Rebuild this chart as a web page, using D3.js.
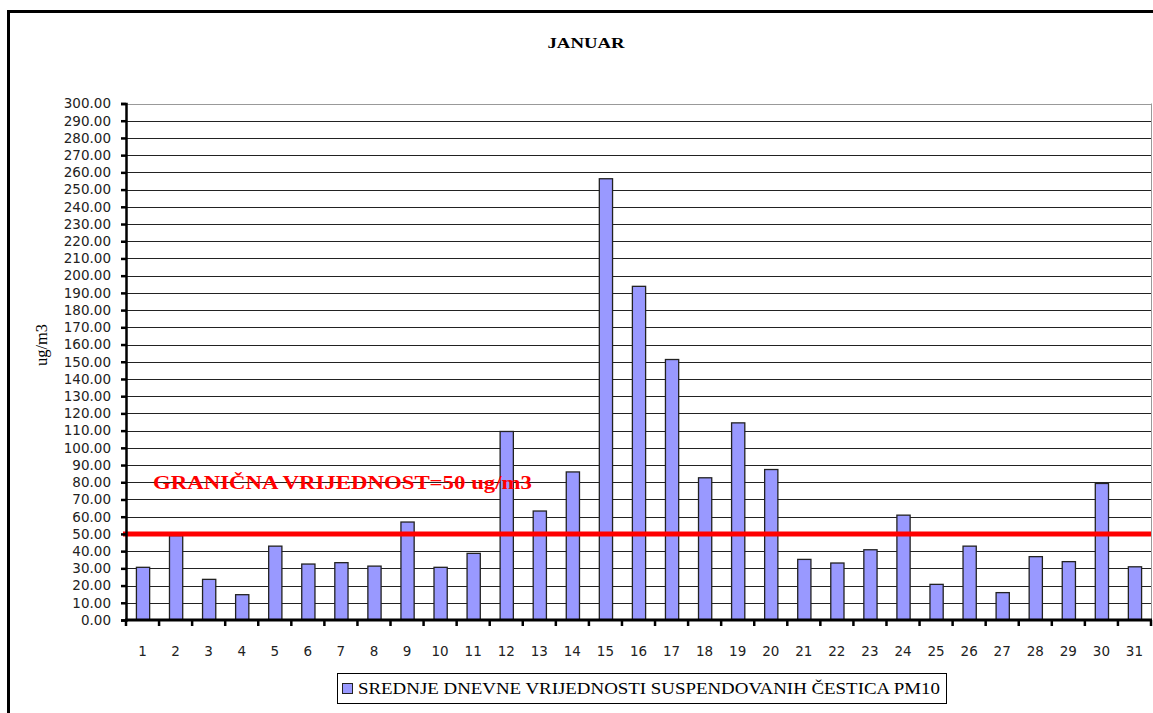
<!DOCTYPE html>
<html>
<head>
<meta charset="utf-8">
<script src="https://cdn.jsdelivr.net/npm/d3@7/dist/d3.min.js"></script>
<style>
html,body{margin:0;padding:0;background:#fff;overflow:hidden;}
svg{display:block;}
.serif{font-family:"Liberation Serif","Times New Roman","DejaVu Serif",serif;}
.sans{font-family:"DejaVu Sans",Tahoma,sans-serif;}
</style>
</head>
<body>
<svg id="chart" width="1153" height="713"></svg>
<script>
const days = ["1","2","3","4","5","6","7","8","9","10","11","12","13","14","15","16","17","18","19","20","21","22","23","24","25","26","27","28","29","30","31"];
const pm10 = [30.6,49.0,23.6,14.7,42.9,32.5,33.3,31.3,56.9,30.6,38.7,109.5,63.3,86.0,256.3,193.8,151.3,82.6,114.5,87.4,35.2,33.1,40.8,60.9,20.7,42.9,15.9,36.8,33.9,79.3,30.9];
const yTicks = [0,10,20,30,40,50,60,70,80,90,100,110,120,130,140,150,160,170,180,190,200,210,220,230,240,250,260,270,280,290,300];
const limitValue = 50;
const titleText = "JANUAR";
const yLabel = "ug/m3";
const limitLabel = "GRANIČNA VRIJEDNOST=50 ug/m3";
const seriesName = "SREDNJE DNEVNE VRIJEDNOSTI SUSPENDOVANIH ČESTICA PM10";

const svg = d3.select("#chart");
const L = 126, R = 1151, T = 103.5, B = 620;

svg.append("rect").attr("width",1153).attr("height",713).attr("fill","#fff");
// outer frame
svg.append("rect").attr("x",8.5).attr("y",11.5).attr("width",1170).attr("height",740)
  .attr("fill","none").attr("stroke","#000").attr("stroke-width",3);

const x = d3.scaleBand().domain(days).range([L,R]).paddingInner(0.6).paddingOuter(0.3);
const y = d3.scaleLinear().domain([0,300]).range([B,T]);
const step = x.step();

function fit(sel, w){
  const n = sel.node();
  const len = n.getComputedTextLength();
  if (len > 0) sel.attr("textLength", w).attr("lengthAdjust","spacingAndGlyphs");
  return sel;
}

// title
fit(svg.append("text").attr("class","serif").attr("x",586).attr("y",48).attr("text-anchor","middle")
  .attr("font-weight","bold").attr("font-size",15).attr("fill","#000").text(titleText), 77);

// gridlines
svg.append("g").selectAll("line").data(yTicks.filter(d=>d>0)).join("line")
  .attr("x1",L).attr("x2",R)
  .attr("y1",d=>Math.round(y(d))+0.5).attr("y2",d=>Math.round(y(d))+0.5)
  .attr("stroke",d=>d===300?"#999":"#222").attr("stroke-width",1);
// plot right border
svg.append("line").attr("x1",R+0.5).attr("x2",R+0.5).attr("y1",T).attr("y2",B)
  .attr("stroke","#999").attr("stroke-width",1);

// bars
svg.append("g").selectAll("rect").data(pm10).join("rect")
  .attr("x",(d,i)=>x(days[i])+0.5)
  .attr("y",d=>y(d))
  .attr("width",x.bandwidth())
  .attr("height",d=>B-y(d))
  .attr("fill","#9999ff").attr("stroke","#222").attr("stroke-width",1.3);

// limit line
svg.append("line").attr("x1",L-3).attr("x2",R).attr("y1",y(limitValue)).attr("y2",y(limitValue))
  .attr("stroke","#ff0000").attr("stroke-width",5);

// limit label
fit(svg.append("text").attr("class","serif").attr("x",153).attr("y",y(80)+7)
  .attr("font-weight","bold").attr("font-size",19).attr("fill","#ff0000").text(limitLabel), 379);

// y axis
const yAxis = svg.append("g").attr("transform",`translate(${L},0)`)
  .call(d3.axisLeft(y).tickValues(yTicks).tickFormat(d3.format(".2f")).tickSize(5).tickPadding(10));
yAxis.select(".domain").attr("stroke","#000").attr("stroke-width",2.5);
yAxis.selectAll(".tick line").attr("stroke","#000").attr("stroke-width",2.5);
yAxis.selectAll("text").attr("font-family","'DejaVu Sans',Tahoma,sans-serif").attr("font-size",13.5).attr("fill","#222");

// x axis line
svg.append("line").attr("x1",L-1).attr("x2",R+1).attr("y1",B).attr("y2",B)
  .attr("stroke","#000").attr("stroke-width",3);
// x ticks at category boundaries
const bounds = days.map(d=>x(d)-step*0.3).concat([x(days[days.length-1])-step*0.3+step]);
svg.append("g").selectAll("line").data(bounds).join("line")
  .attr("x1",d=>d).attr("x2",d=>d).attr("y1",B).attr("y2",B+6)
  .attr("stroke","#000").attr("stroke-width",2.5);
// x labels
svg.append("g").selectAll("text").data(days).join("text")
  .attr("x",d=>x(d)+x.bandwidth()/2).attr("y",656)
  .attr("text-anchor","middle")
  .attr("font-family","'DejaVu Sans',Tahoma,sans-serif").attr("font-size",13.5).attr("fill","#222")
  .text(d=>d);

// y label
fit(svg.append("text").attr("class","serif").attr("transform","translate(47,345) rotate(-90)").attr("text-anchor","middle")
  .attr("font-size",16).attr("fill","#000").text(yLabel), 42);

// legend
const lg = svg.append("g");
lg.append("rect").attr("x",337.5).attr("y",673.5).attr("width",609).attr("height",30)
  .attr("fill","#fff").attr("stroke","#000").attr("stroke-width",1);
lg.append("rect").attr("x",342.5).attr("y",683.5).attr("width",10).attr("height",10)
  .attr("fill","#9999ff").attr("stroke","#222").attr("stroke-width",1);
fit(lg.append("text").attr("class","serif").attr("x",358).attr("y",694)
  .attr("font-size",16).attr("fill","#000").text(seriesName), 582);
</script>
</body>
</html>
